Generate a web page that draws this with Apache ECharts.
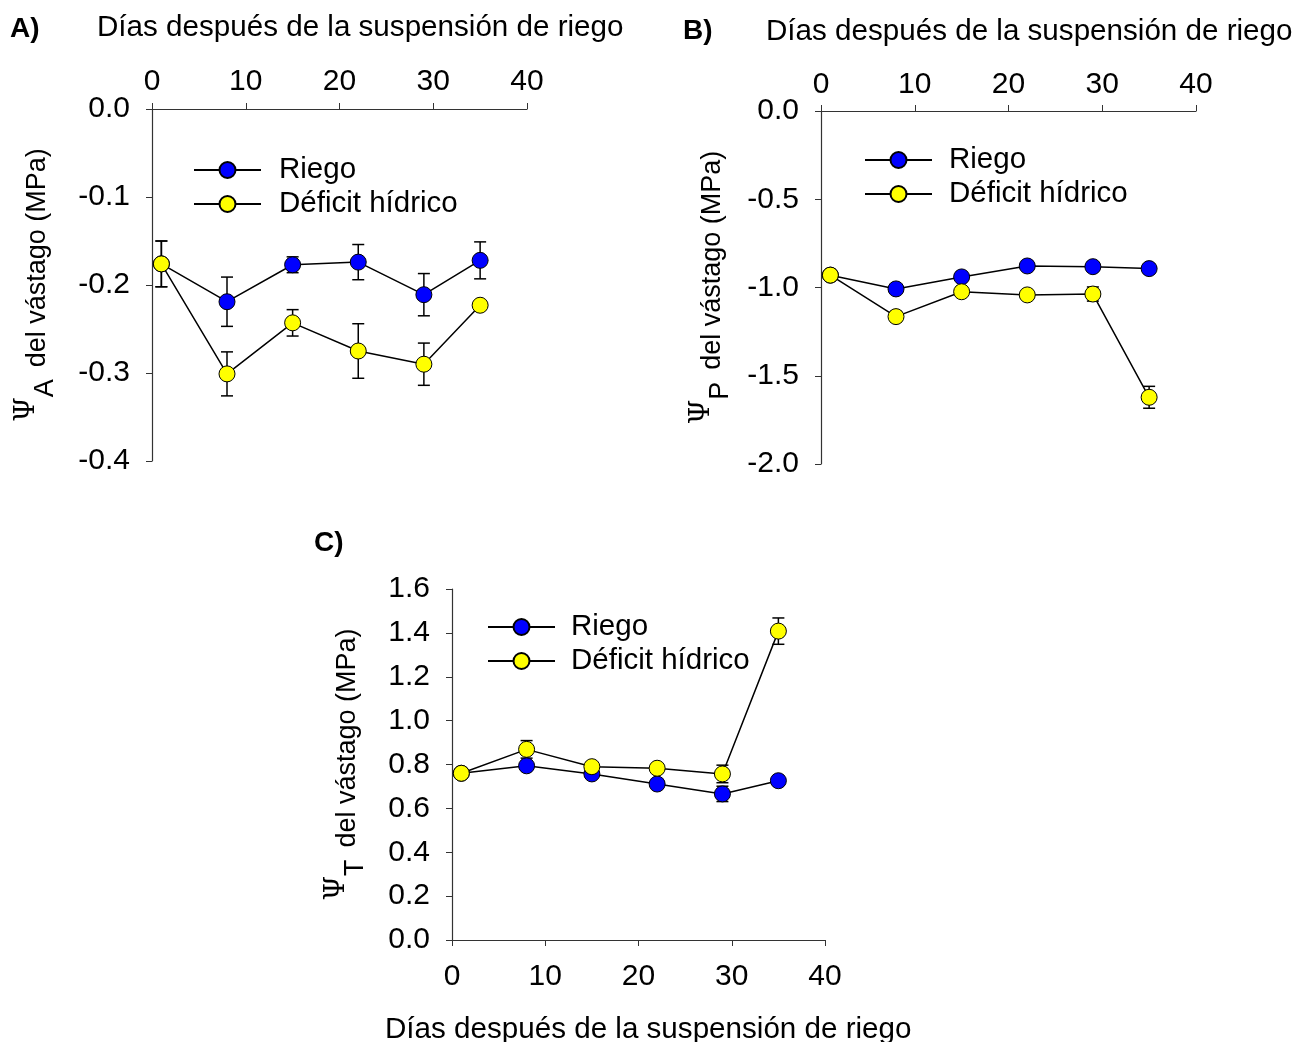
<!DOCTYPE html>
<html>
<head>
<meta charset="utf-8">
<style>
    html, body {
        margin: 0;
        padding: 0;
        background: #ffffff;
    }

    #main {
        width: 1297px;
        height: 1042px;
    }
</style>
</head>
<body>
<div id="main"></div>
<script src="https://cdn.jsdelivr.net/npm/echarts@6/dist/echarts.min.js"></script>
<script>
    // días después de la suspensión de riego
    var dias = [1, 8, 15, 22, 29, 35];

    // A) potencial hídrico
    var riegoA = [-0.176, -0.219, -0.177, -0.174, -0.211, -0.172];
    var riegoAErr = [0.026, 0.028, 0.009, 0.020, 0.024, 0.021];
    var deficitA = [-0.176, -0.301, -0.243, -0.275, -0.290, -0.223];
    var deficitAErr = [0.026, 0.025, 0.015, 0.031, 0.024, 0];

    // B) potencial
    var riegoB = [-0.93, -1.008, -0.94, -0.878, -0.882, -0.893];
    var riegoBErr = [0, 0, 0, 0, 0, 0];
    var deficitB = [-0.93, -1.165, -1.024, -1.042, -1.037, -1.622];
    var deficitBErr = [0, 0.03, 0, 0, 0.04, 0.062];

    // C) turgencia
    var riegoC = [0.76, 0.794, 0.757, 0.711, 0.666, 0.726];
    var riegoCErr = [0, 0, 0, 0, 0.035, 0];
    var deficitC = [0.76, 0.869, 0.79, 0.783, 0.757, 1.408];
    var deficitCErr = [0, 0.04, 0, 0, 0.04, 0.06];

    var fuente = 'Liberation Sans, Arial, sans-serif';
    var tituloX = 'Días después de la suspensión de riego';

    function pares(ys) {
        return dias.map(function (d, i) {
            return [d, ys[i]];
        });
    }

    function errores(ys, es) {
        var out = [];
        dias.forEach(function (d, i) {
            if (es[i] > 0) {
                out.push([d, ys[i] - es[i], ys[i] + es[i]]);
            }
        });
        return out;
    }

    // barra de error con remates
    function barraError(params, api) {
        var x = api.value(0);
        var lo = api.coord([x, api.value(1)]);
        var hi = api.coord([x, api.value(2)]);
        var w = 6;
        var st = {stroke: '#000', lineWidth: 1.5};
        return {
            type: 'group',
            children: [
                {type: 'line', shape: {x1: lo[0], y1: lo[1], x2: hi[0], y2: hi[1]}, style: st},
                {type: 'line', shape: {x1: lo[0] - w, y1: lo[1], x2: lo[0] + w, y2: lo[1]}, style: st},
                {type: 'line', shape: {x1: hi[0] - w, y1: hi[1], x2: hi[0] + w, y2: hi[1]}, style: st}
            ]
        };
    }

    function ejeX(idx, pos, margin) {
        return {
            gridIndex: idx,
            type: 'value',
            position: pos,
            min: 0,
            max: 40,
            interval: 10,
            axisLine: {show: true, onZero: false, lineStyle: {color: '#333', width: 1.2}},
            axisTick: {show: true, length: 6, lineStyle: {color: '#333'}},
            splitLine: {show: false},
            axisLabel: {fontSize: 30, fontFamily: fuente, color: '#000', margin: margin}
        };
    }

    function ejeY(idx, min, max, step, sub, gap) {
        return {
            gridIndex: idx,
            type: 'value',
            min: min,
            max: max,
            interval: step,
            axisLine: {show: true, onZero: false, lineStyle: {color: '#333', width: 1.2}},
            axisTick: {show: true, length: 6, lineStyle: {color: '#333'}},
            splitLine: {show: false},
            axisLabel: {
                fontSize: 30, fontFamily: fuente, color: '#000', margin: 22,
                formatter: function (v) {
                    return v.toFixed(1);
                }
            },
            name: '{psi|Ψ}{sub|' + sub + '}{t|del vástago (MPa)}',
            nameLocation: 'middle',
            nameRotate: 90,
            nameGap: gap,
            nameTextStyle: {
                rich: {
                    psi: {fontFamily: 'DejaVu Serif', fontSize: 28, lineHeight: 28, color: '#000', verticalAlign: 'top'},
                    sub: {fontFamily: fuente, fontSize: 27, lineHeight: 27, color: '#000', padding: [0, 0, 4, 0], verticalAlign: 'bottom'},
                    t: {fontFamily: fuente, fontSize: 27, lineHeight: 50, color: '#000', padding: [0, 0, 0, 12], verticalAlign: 'middle'}
                }
            }
        };
    }

    function linea(nombre, idx, ys, color) {
        return {
            name: nombre,
            type: 'line',
            xAxisIndex: idx,
            yAxisIndex: idx,
            data: pares(ys),
            symbol: 'circle',
            symbolSize: 16,
            z: 3,
            lineStyle: {color: '#000', width: 1.5},
            itemStyle: {color: color, borderColor: '#000', borderWidth: 1},
            emphasis: {disabled: true}
        };
    }

    function serieError(idx, ys, es) {
        return {
            type: 'custom',
            xAxisIndex: idx,
            yAxisIndex: idx,
            renderItem: barraError,
            data: errores(ys, es),
            encode: {x: 0, y: [1, 2]},
            z: 1,
            silent: true
        };
    }

    function leyenda(left, top, gapTexto) {
        return {
            left: left,
            top: top,
            orient: 'vertical',
            padding: 0,
            itemWidth: 67,
            itemHeight: 20,
            itemGap: 4,
            data: ['Riego', 'Déficit hídrico'],
            textStyle: {fontSize: 29.5, fontFamily: fuente, color: '#000', lineHeight: 30, padding: [0, 0, 0, gapTexto]}
        };
    }

    function texto(x, y, s, bold) {
        return {
            type: 'text',
            left: x,
            top: y,
            style: {
                text: s,
                fontSize: bold ? 28 : 29.6,
                fontWeight: bold ? 'bold' : 'normal',
                fontFamily: fuente,
                fill: '#000'
            }
        };
    }

    var myChart = echarts.init(document.getElementById('main'));

    var option = {
        animation: false,
        backgroundColor: '#fff',
        grid: [
            {left: 152, top: 109, width: 375, height: 352},
            {left: 821, top: 111, width: 375, height: 353},
            {left: 452, top: 589, width: 373, height: 351}
        ],
        xAxis: [
            ejeX(0, 'top', 12),
            ejeX(1, 'top', 11),
            ejeX(2, 'bottom', 22)
        ],
        yAxis: [
            ejeY(0, -0.4, 0, 0.1, 'A', 89),
            ejeY(1, -2.0, 0, 0.5, 'P', 83),
            ejeY(2, 0, 1.6, 0.2, 'T', 79)
        ],
        legend: [
            leyenda(193, 155, 13),
            leyenda(864, 145, 12),
            leyenda(487, 612, 11)
        ],
        graphic: [
            texto(10, 15, 'A)', true),
            texto(97, 13, tituloX, false),
            texto(683, 17, 'B)', true),
            texto(766, 17, tituloX, false),
            texto(314, 529, 'C)', true),
            texto(385, 1015, tituloX, false)
        ],
        series: [
            serieError(0, riegoA, riegoAErr),
            serieError(0, deficitA, deficitAErr),
            linea('Riego', 0, riegoA, '#0000ff'),
            linea('Déficit hídrico', 0, deficitA, '#ffff00'),
            serieError(1, riegoB, riegoBErr),
            serieError(1, deficitB, deficitBErr),
            linea('Riego', 1, riegoB, '#0000ff'),
            linea('Déficit hídrico', 1, deficitB, '#ffff00'),
            serieError(2, riegoC, riegoCErr),
            serieError(2, deficitC, deficitCErr),
            linea('Riego', 2, riegoC, '#0000ff'),
            linea('Déficit hídrico', 2, deficitC, '#ffff00')
        ]
    };

    myChart.setOption(option);
</script>
</body>
</html>
